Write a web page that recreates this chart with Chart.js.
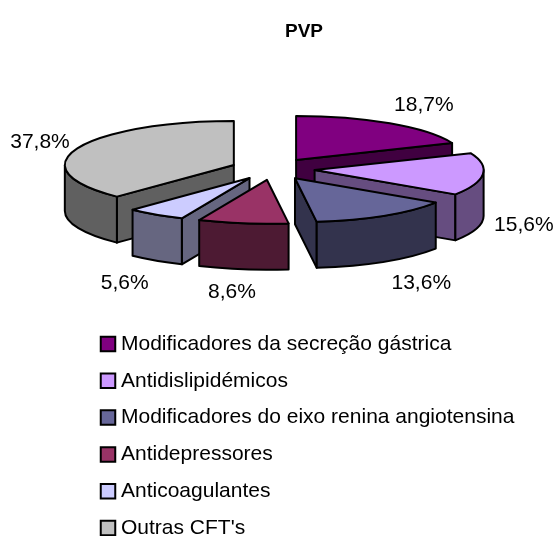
<!DOCTYPE html>
<html>
<head>
<meta charset="utf-8">
<style>
	html, body { margin: 0; padding: 0; background: #fff; }
	canvas { display: block; }
</style>
<script src="https://cdn.jsdelivr.net/npm/chart.js@4/dist/chart.umd.js"></script>
</head>
<body>
<canvas id="chart" width="554" height="536"></canvas>
<script>
const chartTitle = `PVP`;
const categories = [`Modificadores da secreção gástrica`, `Antidislipidémicos`, `Modificadores do eixo renina angiotensina`, `Antidepressores`, `Anticoagulantes`, `Outras CFT's`];
const shares = [18.7, 15.6, 13.6, 8.6, 5.6, 37.8];
const shareLabels = [`18,7%`, `15,6%`, `13,6%`, `8,6%`, `5,6%`, `37,8%`];
const topColors = [`#800080`, `#cc99ff`, `#666699`, `#993366`, `#ccccff`, `#c0c0c0`];
const wallColors = [`#400040`, `#664d80`, `#33334d`, `#4d1a33`, `#666680`, `#606060`];

const PIE_X = 272.8;
const PIE_Y = 169;
const RADIUS = 169;
const SQUASH = 0.26; // ry / rx of the tilted disc
const DEPTH = 46;
const EXPLODE = 42;
const PAINT_ORDER = [5, 4, 3, 0, 1, 2]; // back to front
const LABEL_SHIFT = [[34, -18], [41, 5], [37, 22], [-11, 23], [-31, 23], [-37, -6]];
const FONT = `"Liberation Sans", Arial, sans-serif`;

const sliceOrigin = arc => {
	const mid = (arc.startAngle + arc.endAngle) / 2;
	return {x: PIE_X + Math.cos(mid) * EXPLODE, y: PIE_Y + Math.sin(mid) * EXPLODE * SQUASH};
};

class Pie3DController extends Chart.PieController {
	draw() {
		const ctx = this._ctx;
		const arcs = this._cachedMeta.data;
		PAINT_ORDER.forEach(index => this.drawSlice(ctx, arcs[index], index));
	}

	drawSlice(ctx, arc, index) {
		const origin = sliceOrigin(arc);
		const ry = RADIUS * SQUASH;
		const {startAngle, endAngle} = arc;
		ctx.save();
		ctx.lineWidth = 2;
		ctx.lineJoin = `round`;
		ctx.strokeStyle = `#000`;
		ctx.fillStyle = wallColors[index];

		const radialWall = angle => {
			const edgeX = origin.x + Math.cos(angle) * RADIUS;
			const edgeY = origin.y + Math.sin(angle) * ry;
			ctx.beginPath();
			ctx.moveTo(origin.x, origin.y);
			ctx.lineTo(edgeX, edgeY);
			ctx.lineTo(edgeX, edgeY + DEPTH);
			ctx.lineTo(origin.x, origin.y + DEPTH);
			ctx.closePath();
			ctx.fill();
			ctx.stroke();
		};
		if (Math.cos(startAngle) < -0.001) { radialWall(startAngle); }
		if (Math.cos(endAngle) > 0.001) { radialWall(endAngle); }

		const wallStart = Math.max(startAngle, 0);
		const wallEnd = Math.min(endAngle, Math.PI);
		if (wallEnd > wallStart) {
			ctx.beginPath();
			ctx.ellipse(origin.x, origin.y, RADIUS, ry, 0, wallStart, wallEnd);
			ctx.ellipse(origin.x, origin.y + DEPTH, RADIUS, ry, 0, wallEnd, wallStart, true);
			ctx.closePath();
			ctx.fill();
			ctx.stroke();
		}

		// top face comes from the arc element, squashed onto the disc
		ctx.save();
		ctx.translate(origin.x, origin.y);
		ctx.scale(1, SQUASH);
		ctx.translate(-arc.x, -arc.y);
		arc.draw(ctx);
		ctx.restore();

		ctx.beginPath();
		ctx.moveTo(origin.x, origin.y);
		ctx.ellipse(origin.x, origin.y, RADIUS, ry, 0, startAngle, endAngle);
		ctx.closePath();
		ctx.stroke();
		ctx.restore();
	}
}
Pie3DController.id = `pie3d`;
Chart.register(Pie3DController);

const placementPlugin = {
	id: `placement`,
	afterLayout(chart) {
		chart.legend.left = 89.7;
		chart.legend.right = 554;
		chart.legend.top = 317.7;
		chart.legend.bottom = 640;
		chart.titleBlock.left = 0;
		chart.titleBlock.right = 608;
		chart.titleBlock.top = 20;
	},
	afterDatasetsDraw(chart) {
		const ctx = chart.ctx;
		const arcs = chart.getDatasetMeta(0).data;
		ctx.save();
		ctx.font = `21px ${FONT}`;
		ctx.fillStyle = `#000`;
		ctx.textAlign = `center`;
		ctx.textBaseline = `middle`;
		arcs.forEach((arc, index) => {
			const origin = sliceOrigin(arc);
			const mid = (arc.startAngle + arc.endAngle) / 2;
			const front = Math.sin(mid) > 0 ? DEPTH : 0;
			const x = origin.x + Math.cos(mid) * RADIUS + LABEL_SHIFT[index][0];
			const y = origin.y + Math.sin(mid) * RADIUS * SQUASH + front + LABEL_SHIFT[index][1];
			ctx.fillText(shareLabels[index], x, y);
		});
		ctx.restore();
	}
};

new Chart(document.getElementById(`chart`), {
	type: `pie3d`,
	data: {
		labels: categories,
		datasets: [{
			data: shares,
			backgroundColor: topColors,
			borderWidth: 0,
			clip: false
		}]
	},
	options: {
		responsive: false,
		animation: false,
		devicePixelRatio: 1,
		radius: RADIUS,
		plugins: {
			title: {
				display: true,
				text: chartTitle,
				color: `#000`,
				font: {family: FONT, size: 19, weight: `bold`},
				padding: 0
			},
			legend: {
				position: `left`,
				align: `start`,
				labels: {
					color: `#000`,
					font: {family: FONT, size: 21},
					padding: 15.8,
					usePointStyle: true,
					boxWidth: 5,
					boxHeight: 14.5,
					generateLabels: chart => categories.map((text, index) => ({
						text,
						index,
						fillStyle: topColors[index],
						strokeStyle: `#000`,
						lineWidth: 2,
						pointStyle: `rect`
					}))
				}
			},
			tooltip: {enabled: false}
		}
	},
	plugins: [placementPlugin]
});
</script>
</body>
</html>
